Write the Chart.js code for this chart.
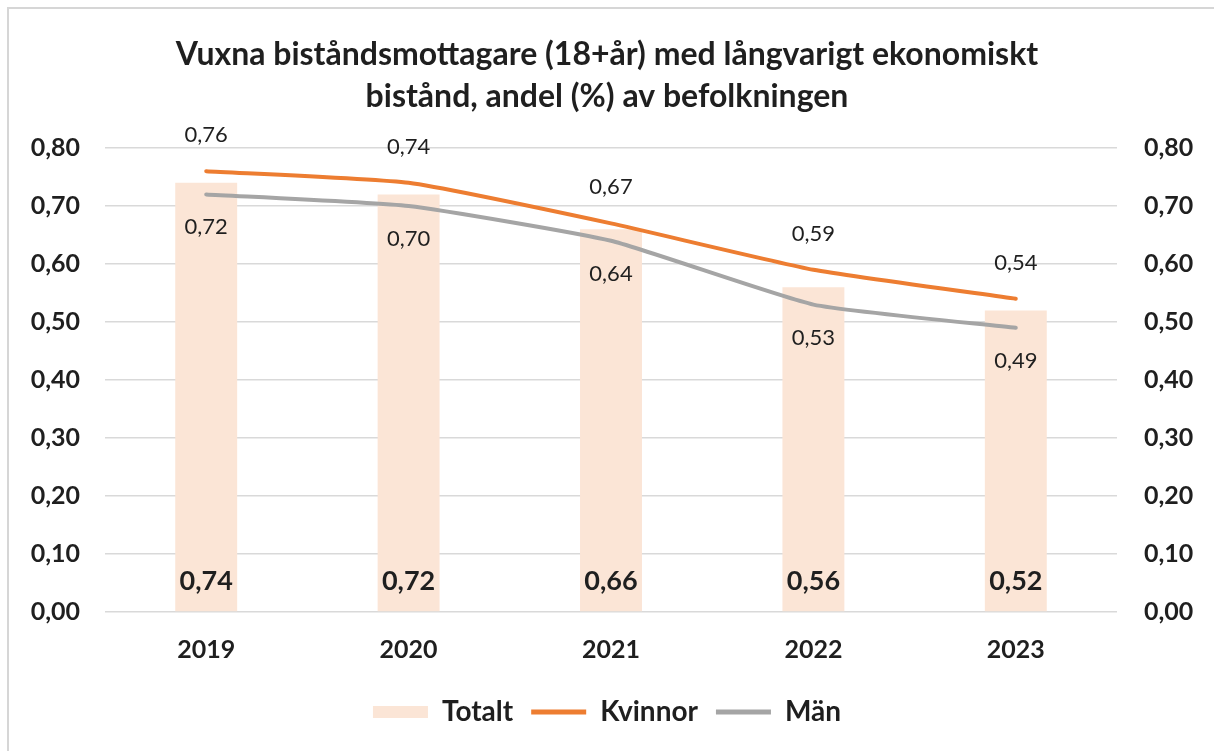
<!DOCTYPE html>
<html>
<head>
<meta charset="utf-8">
<script src="https://cdn.jsdelivr.net/npm/chart.js@4.4.1/dist/chart.umd.min.js"></script>
<style>
  html, body { margin: 0; padding: 0; background: #fff; }
  #wrap { position: absolute; left: 0; top: 0; width: 1214px; height: 751px; }
</style>
</head>
<body>
<div id="wrap"><canvas id="chart"></canvas></div>
<script>
var years = ["2019", "2020", "2021", "2022", "2023"];
var totalt = [0.74, 0.72, 0.66, 0.56, 0.52];
var kvinnor = [0.76, 0.74, 0.67, 0.59, 0.54];
var man = [0.72, 0.70, 0.64, 0.53, 0.49];
var yTicks = [0, 0.1, 0.2, 0.3, 0.4, 0.5, 0.6, 0.7, 0.8];

var FONT = "Lato";
var TXT = "#1f1f1f";

function fmt(v) {
    return v.toFixed(2).replace(".", ",");
}

// simple value labels, like Excel data labels
var labelPlugin = {
    id: "valueLabels",
    afterDatasetsDraw: function (chart) {
        var ctx = chart.ctx;
        var yScale = chart.scales.y;
        ctx.save();
        ctx.textAlign = "center";
        ctx.textBaseline = "middle";
        ctx.fillStyle = TXT;
        chart.data.datasets.forEach(function (ds, i) {
            var meta = chart.getDatasetMeta(i);
            meta.data.forEach(function (el, j) {
                var v = ds.data[j];
                if (ds.type === "bar") {
                    ctx.font = "bold 27px " + FONT;
                    ctx.fillText(fmt(v), el.x, yScale.getPixelForValue(0) - 31);
                } else if (ds.label === "Kvinnor") {
                    ctx.font = "22px " + FONT;
                    ctx.fillText(fmt(v), el.x, el.y - 36);
                } else {
                    ctx.font = "22px " + FONT;
                    ctx.fillText(fmt(v), el.x, el.y + 33);
                }
            });
        });
        ctx.restore();
    }
};

// thin frame at top and left, like the screenshot
var framePlugin = {
    id: "frame",
    beforeDraw: function (chart) {
        var ctx = chart.ctx;
        ctx.save();
        ctx.fillStyle = "#d6d6d6";
        ctx.fillRect(7, 7, chart.width - 7, 2);
        ctx.fillRect(7, 7, 2, chart.height - 7);
        ctx.restore();
    }
};

new Chart(document.getElementById("chart"), {
    data: {
        labels: years,
        datasets: [
            {
                type: "line",
                label: "Kvinnor",
                data: kvinnor,
                borderColor: "#ED7D31",
                backgroundColor: "#ED7D31",
                borderWidth: 4,
                pointRadius: 0,
                tension: 0.15,
                borderCapStyle: "round",
                yAxisID: "y",
                order: 1
            },
            {
                type: "line",
                label: "Män",
                data: man,
                borderColor: "#A5A5A5",
                backgroundColor: "#A5A5A5",
                borderWidth: 4,
                pointRadius: 0,
                tension: 0.15,
                borderCapStyle: "round",
                yAxisID: "y",
                order: 2
            },
            {
                type: "bar",
                label: "Totalt",
                data: totalt,
                backgroundColor: "#FBE5D6",
                categoryPercentage: 1,
                barPercentage: 0.306,
                yAxisID: "y",
                order: 3
            }
        ]
    },
    options: {
        responsive: true,
        maintainAspectRatio: false,
        animation: false,
        layout: { padding: { top: 0, bottom: 15, left: 0, right: 0 } },
        plugins: {
            title: {
                display: true,
                text: ["Vuxna biståndsmottagare (18+år) med långvarigt ekonomiskt", "bistånd, andel (%) av befolkningen"],
                color: TXT,
                font: { family: FONT, size: 32, weight: "bold", lineHeight: 1.3125 },
                padding: { top: 34, bottom: 30 }
            },
            legend: {
                position: "bottom",
                labels: {
                    color: TXT,
                    font: { family: FONT, size: 28, weight: "bold" },
                    usePointStyle: true,
                    pointStyleWidth: 55,
                    boxHeight: 12,
                    padding: 18,
                    generateLabels: function (chart) {
                        var items = Chart.defaults.plugins.legend.labels.generateLabels(chart);
                        items.forEach(function (it) {
                            var ds = chart.data.datasets[it.datasetIndex];
                            if (ds.type === "bar") {
                                it.pointStyle = "rect";
                                it.lineWidth = 0;
                                it.strokeStyle = "rgba(0,0,0,0)";
                            } else {
                                it.pointStyle = "line";
                                it.lineWidth = 5;
                                it.strokeStyle = ds.borderColor;
                            }
                        });
                        // order: Totalt, Kvinnor, Män
                        var order = ["Totalt", "Kvinnor", "Män"];
                        items.sort(function (a, b) { return order.indexOf(a.text) - order.indexOf(b.text); });
                        return items;
                    }
                }
            },
            tooltip: { enabled: false }
        },
        scales: {
            x: {
                grid: { display: false },
                border: { display: false },
                ticks: { color: TXT, font: { family: FONT, size: 25, weight: "bold" }, padding: 15 }
            },
            y: {
                position: "left",
                min: 0,
                max: 0.8,
                afterBuildTicks: function (s) { s.ticks = yTicks.map(function (v) { return { value: v }; }); },
                afterFit: function (s) { s.width = 105; },
                grid: { color: "#d9d9d9", lineWidth: 1.5, drawTicks: false },
                border: { display: false },
                ticks: {
                    color: TXT,
                    font: { family: FONT, size: 25, weight: "bold" },
                    padding: 25,
                    callback: function (v) { return fmt(v); }
                }
            },
            y2: {
                position: "right",
                min: 0,
                max: 0.8,
                afterBuildTicks: function (s) { s.ticks = yTicks.map(function (v) { return { value: v }; }); },
                afterFit: function (s) { s.width = 97; },
                grid: { display: false, drawTicks: false },
                border: { display: false },
                ticks: {
                    color: TXT,
                    font: { family: FONT, size: 25, weight: "bold" },
                    padding: 27,
                    callback: function (v) { return fmt(v); }
                }
            }
        }
    },
    plugins: [framePlugin, labelPlugin]
});
</script>
</body>
</html>
